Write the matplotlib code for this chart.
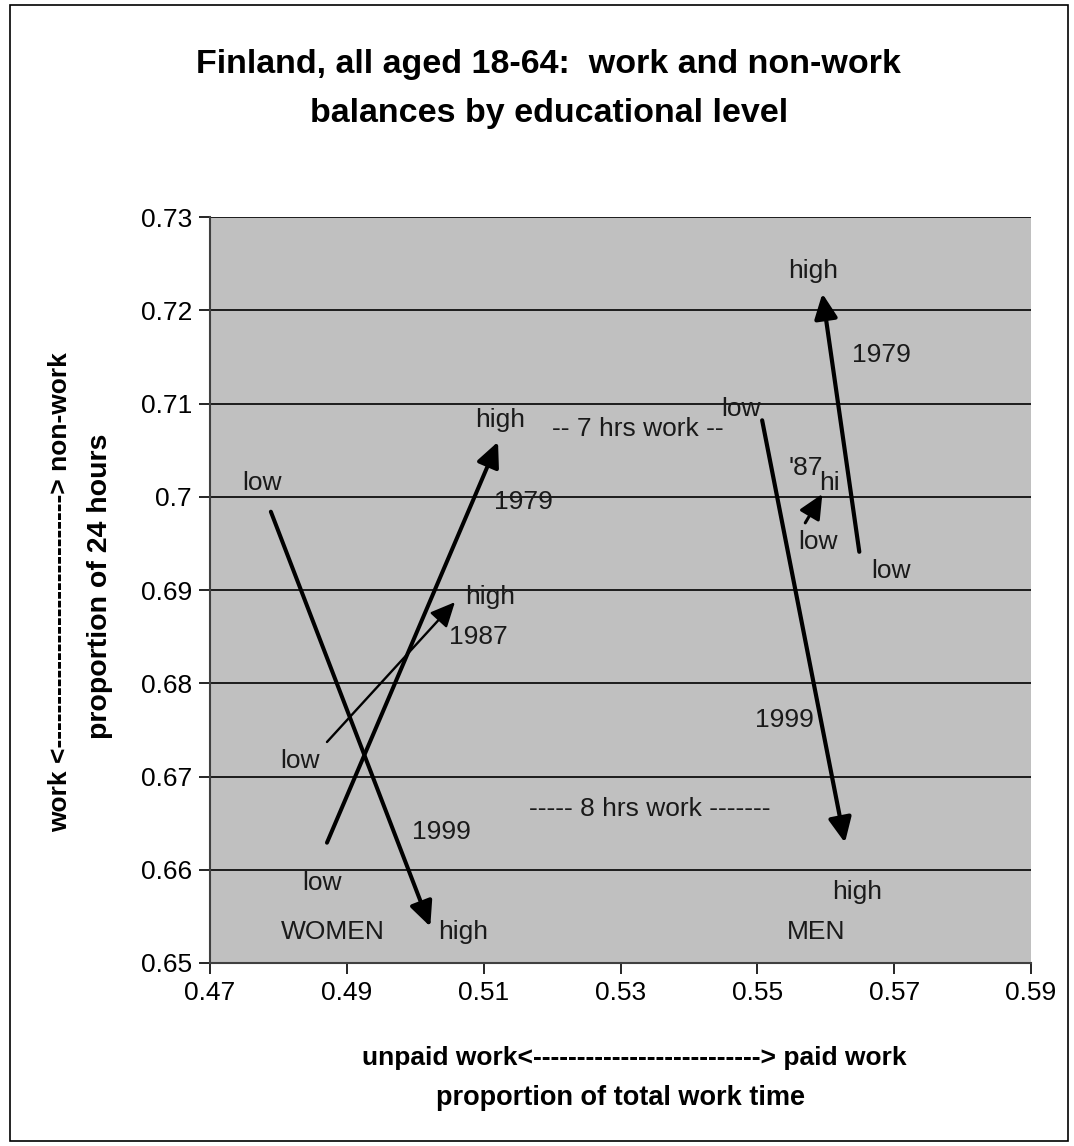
import matplotlib
matplotlib.use("Agg")
import matplotlib.pyplot as plt
from matplotlib.patches import Rectangle

plt.rcParams["font.family"] = ["Liberation Sans", "DejaVu Sans"]

# arrow data: low education -> high education, per survey year
years = ["1979", "1987", "1999"]
women_low_x = [0.4871, 0.4871, 0.4789]
women_low_y = [0.6629, 0.6737, 0.6984]
women_high_x = [0.5121, 0.5058, 0.5022]
women_high_y = [0.7059, 0.6887, 0.6539]
men_low_x = [0.5649, 0.5570, 0.5507]
men_low_y = [0.6941, 0.6972, 0.7082]
men_high_x = [0.5595, 0.5595, 0.5628]
men_high_y = [0.7218, 0.7003, 0.6629]

x_ticks = [0.47, 0.49, 0.51, 0.53, 0.55, 0.57, 0.59]
y_ticks = [0.65, 0.66, 0.67, 0.68, 0.69, 0.70, 0.71, 0.72, 0.73]
x_tick_labels = ["0.47", "0.49", "0.51", "0.53", "0.55", "0.57", "0.59"]
y_tick_labels = ["0.65", "0.66", "0.67", "0.68", "0.69", "0.7", "0.71", "0.72", "0.73"]

# text annotations placed in data coordinates
labels = [
    ("low", 0.4776, 0.7015), ("high", 0.5124, 0.7082), ("1979", 0.5158, 0.6994),
    ("high", 0.5109, 0.6892), ("1987", 0.5092, 0.6850), ("low", 0.4832, 0.6717),
    ("1999", 0.5038, 0.6640), ("low", 0.4864, 0.6586), ("WOMEN", 0.4880, 0.6533),
    ("high", 0.5070, 0.6533), ("-- 7 hrs work --", 0.5326, 0.7073),
    ("----- 8 hrs work -------", 0.5343, 0.6665),
    ("high", 0.5582, 0.7242), ("1979", 0.5682, 0.7152), ("low", 0.5476, 0.7094),
    ("'87", 0.5571, 0.7031), ("hi", 0.5606, 0.7015), ("low", 0.5589, 0.6951),
    ("low", 0.5696, 0.6920), ("1999", 0.5539, 0.6761), ("high", 0.5646, 0.6576),
    ("MEN", 0.5586, 0.6533),
]

women_lw = [2.9, 1.7, 2.9]
men_lw = [3.0, 2.2, 3.0]

fig = plt.figure(figsize=(10.74, 11.46), dpi=100)
fig.patches.append(Rectangle((0.009, 0.004), 0.985, 0.992, transform=fig.transFigure,
                             fill=False, edgecolor="black", linewidth=1.2))

ax = fig.add_axes([0.1955, 0.1597, 0.7645, 0.6509])
ax.set_facecolor("#C0C0C0")
ax.set_xlim(0.47, 0.59)
ax.set_ylim(0.65, 0.73)
ax.set_xticks(x_ticks, x_tick_labels)
ax.set_yticks(y_ticks, y_tick_labels)
ax.tick_params(labelsize=19, length=8, width=1.2, direction="out", pad=5)
ax.grid(axis="y", color="black", linewidth=1.2)
ax.set_axisbelow(True)
for side in ["left", "bottom"]:
    ax.spines[side].set_color("#404040")
    ax.spines[side].set_linewidth(1.5)
for side in ["top", "right"]:
    ax.spines[side].set_visible(False)


def draw_arrow(x0, y0, x1, y1, lw):
    ax.annotate("", xy=(x1, y1), xytext=(x0, y0),
                arrowprops=dict(arrowstyle="-|>,head_length=0.6,head_width=0.28",
                                mutation_scale=25, color="black", lw=lw,
                                shrinkA=0, shrinkB=0))


for i in range(len(years)):
    draw_arrow(women_low_x[i], women_low_y[i], women_high_x[i], women_high_y[i], women_lw[i])
    draw_arrow(men_low_x[i], men_low_y[i], men_high_x[i], men_high_y[i], men_lw[i])

for txt, x, y in labels:
    ax.text(x, y, txt, fontsize=19, color="#1a1a1a", ha="center", va="center")

fig.text(0.511, 0.944, "Finland, all aged 18-64:  work and non-work", fontsize=24.5,
         fontweight="bold", ha="center", va="center")
fig.text(0.511, 0.901, "balances by educational level", fontsize=24.5,
         fontweight="bold", ha="center", va="center")

fig.text(0.591, 0.0768, "unpaid work<--------------------------> paid work",
         fontsize=19, fontweight="bold", ha="center", va="center")
fig.text(0.578, 0.0419, "proportion of total work time", fontsize=19.5,
         fontweight="bold", ha="center", va="center")

fig.text(0.056, 0.483, "work <-----------------------------> non-work", fontsize=19,
         fontweight="bold", ha="center", va="center", rotation=90)
fig.text(0.093, 0.488, "proportion of 24 hours", fontsize=20.5,
         fontweight="bold", ha="center", va="center", rotation=90)

fig.savefig("out.png", dpi=100)
